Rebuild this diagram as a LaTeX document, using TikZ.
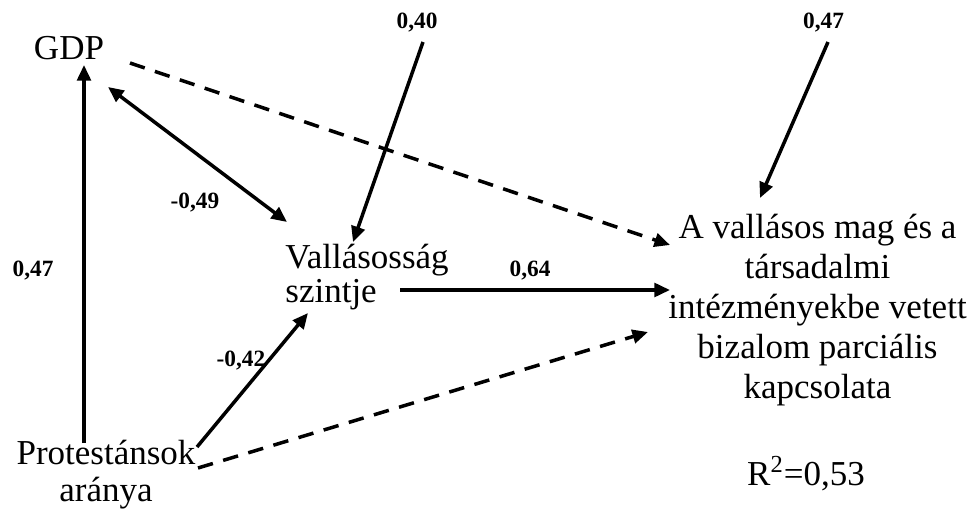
\documentclass[tikz,border=0pt]{standalone}
\usepackage{fontspec}
\setmainfont{Liberation Serif}
\usetikzlibrary{arrows.meta,calc}

\begin{document}
\begin{tikzpicture}[x=0.5143pt,y=-0.5143pt,
  >={Triangle[length=8pt,width=7pt]},
  var/.style={inner sep=0pt,anchor=base},
  coef/.style={inner sep=0pt,anchor=base,font=\fontsize{12}{14}\selectfont\bfseries},
  arr/.style={line width=1.8pt,->},
  dasharr/.style={arr,dash pattern=on 8pt off 5.5pt}]
\useasboundingbox (0,0) rectangle (976,514);

% variables (base = last line)
\node[var,font=\fontsize{18}{20.6}\selectfont] (gdp) at (69,60) {GDP};
\node[var,anchor=base west,align=left,font=\fontsize{18}{17.7}\selectfont] (vall) at (285,302.7) {Vallásosság\\szintje};
\node[var,align=center,font=\fontsize{18}{18.9}\selectfont] (prot) at (106,501.7) {Protestánsok\\aránya};
\node[var,align=center,font=\fontsize{18}{20.6}\selectfont] (tgt) at (817.5,398.3) {A vallásos mag és a\\társadalmi\\intézményekbe vetett\\bizalom parciális\\kapcsolata};
\node[var,font=\fontsize{18}{20.6}\selectfont] (rsq) at (806,485) {R\textsuperscript{2}=0,53};

% coefficients
\node[coef] (c40) at (417,29) {0,40};
\node[coef] (c47b) at (823.5,28.3) {0,47};
\node[coef] (c49) at (195,208) {-0,49};
\node[coef] (c47a) at (33,276.7) {0,47};
\node[coef] (c42) at (241,366.7) {-0,42};
\node[coef] (c64) at (530,276.7) {0,64};

% paths
\draw[arr] ($(prot.base)+(-22,-58.7)$) -- ($(gdp.base)+(15,5)$);
\draw[arr,<->] ($(gdp.base)+(39,27)$) -- ($(vall.base west)+(2,-80.7)$);
\draw[dasharr] ($(gdp.base)+(61,3)$) -- ($(tgt.base)+(-147.5,-153.3)$);
\draw[arr] ($(c40.base)+(6,13)$) -- ($(vall.base west)+(68,-60.7)$);
\draw[arr] ($(c47b.base)+(4.5,13.7)$) -- ($(tgt.base)+(-57.5,-200.3)$);
\draw[arr] ($(vall.base west)+(115,-12.7)$) -- ($(tgt.base)+(-147.5,-108.3)$);
\draw[arr] ($(prot.base)+(91,-54.7)$) -- ($(vall.base west)+(23,10.3)$);
\draw[dasharr] ($(prot.base)+(92,-33.7)$) -- ($(tgt.base)+(-169.5,-66.3)$);
\end{tikzpicture}
\end{document}
